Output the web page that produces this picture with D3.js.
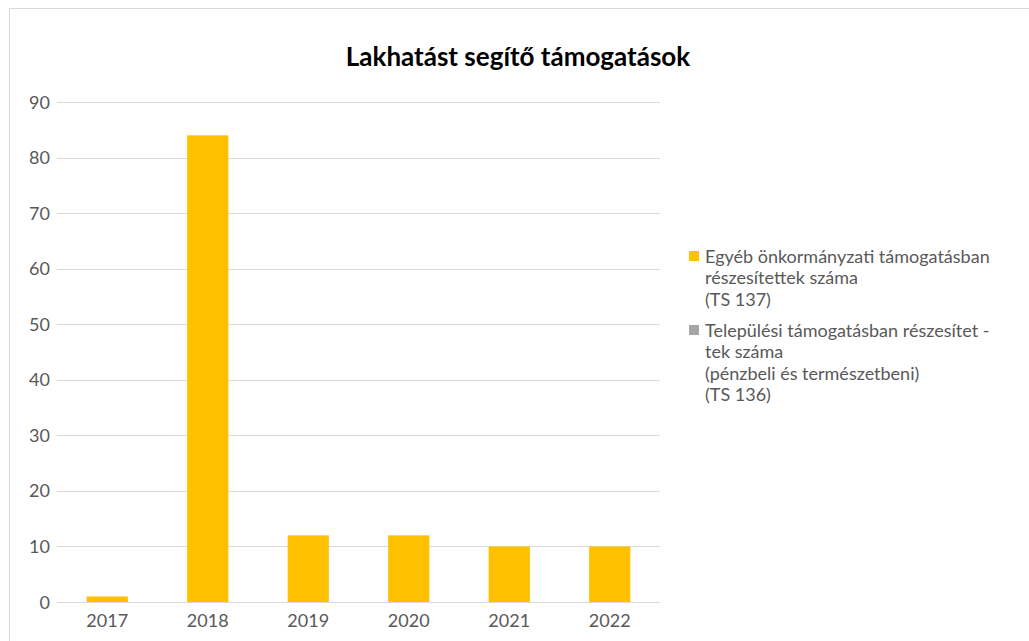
<!DOCTYPE html>
<html>
<head>
<meta charset="utf-8">
<script src="https://cdn.jsdelivr.net/npm/d3@7"></script>
<style>
  body { margin: 0; background: #fff; }
  svg { display: block; font-family: Lato, "Open Sans", sans-serif; }
</style>
</head>
<body>
<svg id="chart" width="1029" height="641"></svg>
<script>
const years = ['2017', '2018', '2019', '2020', '2021', '2022'];
const egyebValues = [1, 84, 12, 12, 10, 10];
const telepulesiValues = [0, 0, 0, 0, 0, 0];
const yTicks = [0, 10, 20, 30, 40, 50, 60, 70, 80, 90];
const legendLabels = [
  ['Egyéb önkormányzati támogatásban', 'részesítettek száma', '(TS 137)'],
  ['Települési támogatásban részesítet -', 'tek száma', '(pénzbeli és természetbeni)', '(TS 136)']
];
const colors = ['#ffc000', '#a5a5a5'];

const svg = d3.select('#chart');

// chart frame
svg.append('rect')
  .attr('x', 9.5).attr('y', 8.5)
  .attr('width', 1040).attr('height', 660)
  .attr('fill', 'none')
  .attr('stroke', '#d9d9d9');

svg.append('text')
  .attr('x', 518).attr('y', 66)
  .attr('text-anchor', 'middle')
  .attr('font-size', 26)
  .attr('font-weight', 'bold')
  .attr('fill', '#000')
  .text('Lakhatást segítő támogatások');

const x = d3.scaleBand().domain(years).range([57, 660]).paddingInner(0.59).paddingOuter(0.295);
const y = d3.scaleLinear().domain([0, 90]).range([602, 102]);

// gridlines
svg.append('g').selectAll('line')
  .data(yTicks)
  .enter()
  .append('line')
  .attr('x1', 57).attr('x2', 660)
  .attr('y1', function(d) { return Math.round(y(d)) + 0.5; })
  .attr('y2', function(d) { return Math.round(y(d)) + 0.5; })
  .attr('stroke', '#d9d9d9')
  .attr('stroke-width', 1);

// y labels
svg.append('g').selectAll('text')
  .data(yTicks)
  .enter()
  .append('text')
  .attr('x', 50)
  .attr('y', function(d) { return y(d) + 6.5; })
  .attr('text-anchor', 'end')
  .attr('font-size', 18)
  .attr('fill', '#595959')
  .text(function(d) { return d; });

// bars (stacked)
const stacked = years.map(function(yr, i) {
  return { year: yr, a: egyebValues[i], b: telepulesiValues[i] };
});
const series = d3.stack().keys(['a', 'b'])(stacked);

svg.append('g').selectAll('g')
  .data(series)
  .enter()
  .append('g')
  .attr('fill', function(d, i) { return colors[i]; })
  .selectAll('rect')
  .data(function(d) { return d; })
  .enter()
  .append('rect')
  .attr('x', function(d) { return x(d.data.year); })
  .attr('width', x.bandwidth())
  .attr('y', function(d) { return y(d[1]); })
  .attr('height', function(d) { return y(d[0]) - y(d[1]); });

// x labels
svg.append('g').selectAll('text')
  .data(years)
  .enter()
  .append('text')
  .attr('x', function(d) { return x(d) + x.bandwidth() / 2; })
  .attr('y', 627)
  .attr('text-anchor', 'middle')
  .attr('font-size', 18)
  .attr('fill', '#595959')
  .text(function(d) { return d; });

// legend
const legendTops = [256, 330];
legendLabels.forEach(function(lines, i) {
  const g = svg.append('g');
  g.append('rect')
    .attr('x', 689).attr('y', legendTops[i] - 5)
    .attr('width', 10).attr('height', 10)
    .attr('fill', colors[i]);
  lines.forEach(function(line, j) {
    g.append('text')
      .attr('x', 705)
      .attr('y', legendTops[i] + 6.5 + j * 21.5)
      .attr('font-size', 18)
      .attr('fill', '#595959')
      .text(line);
  });
});
</script>
</body>
</html>
